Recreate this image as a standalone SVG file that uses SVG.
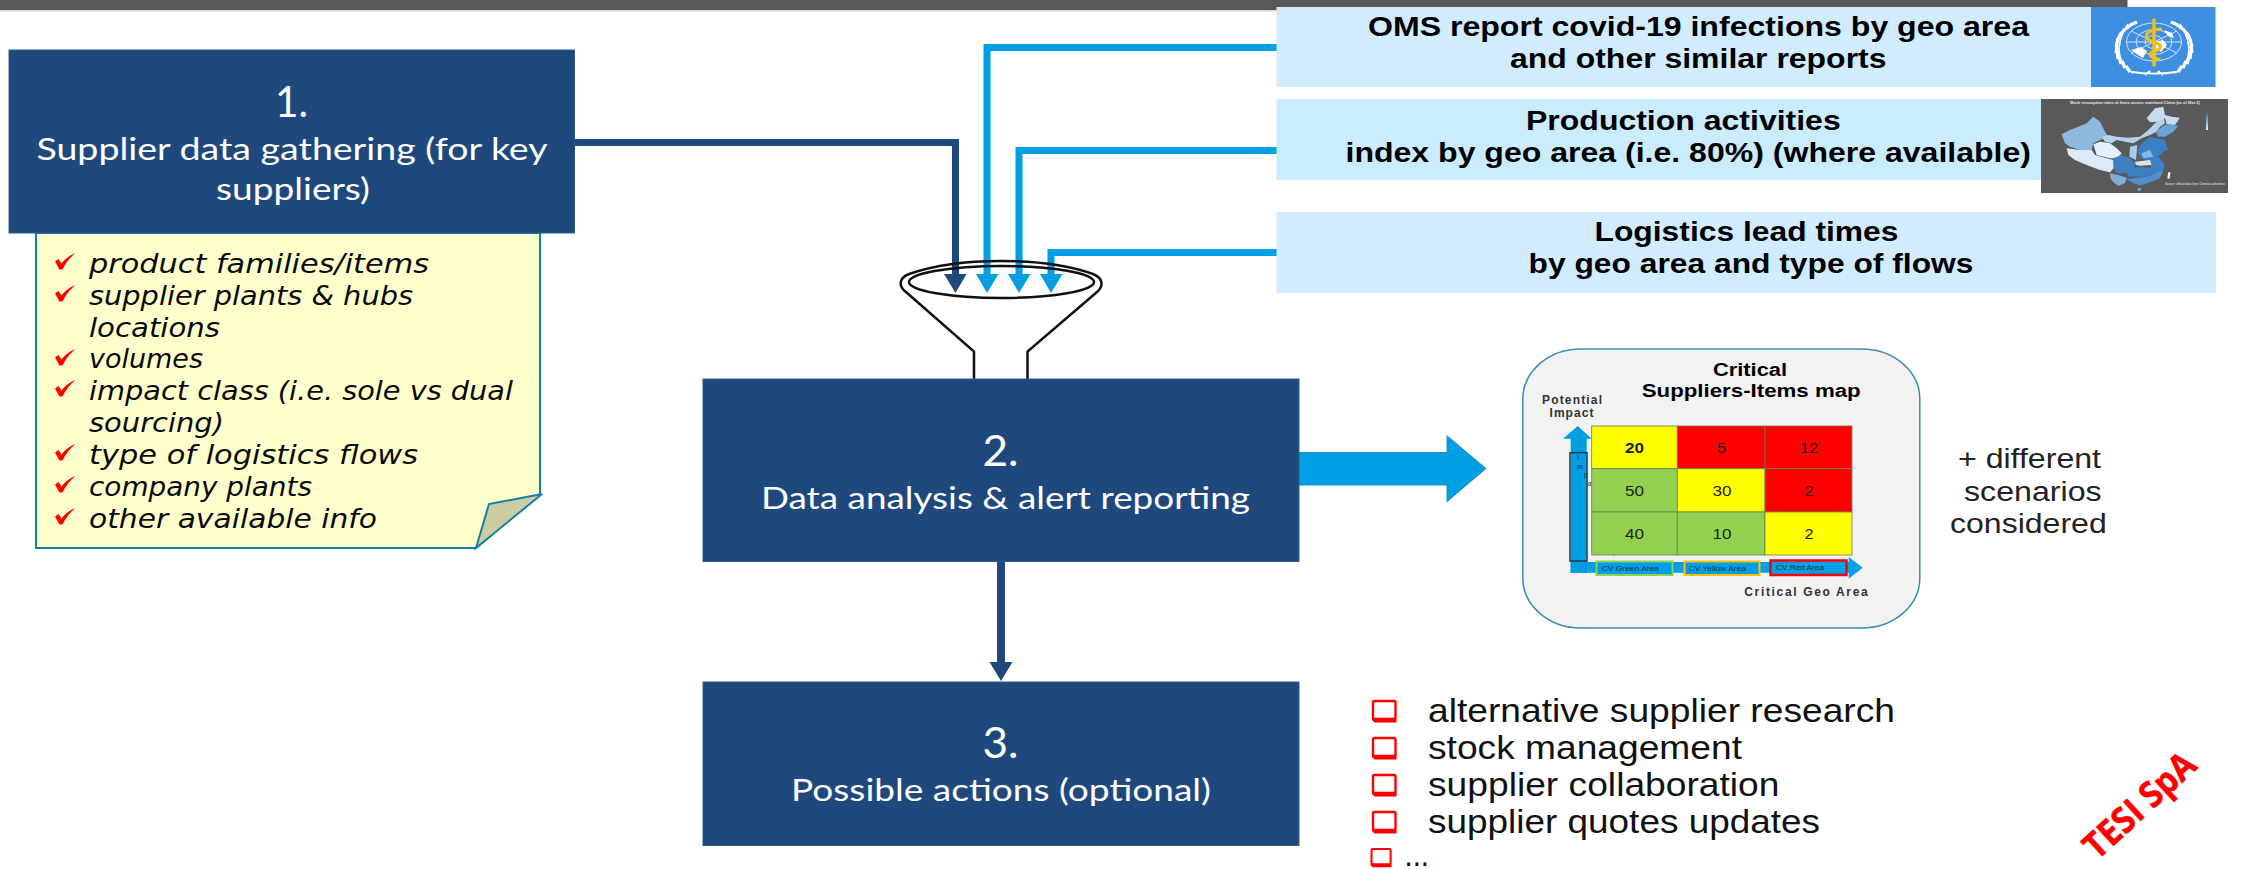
<svg xmlns="http://www.w3.org/2000/svg" width="2244" height="869" viewBox="0 0 2244 869">
<style>
.box{fill:#1F497D;stroke:#2e5a90;stroke-width:1}
.num{font-family:Lato,"Liberation Sans",sans-serif;fill:#fff;font-size:42px}
.ttl{font-family:Lato,"Liberation Sans",sans-serif;fill:#fff;font-size:30px}
.note{font-family:"DejaVu Sans",sans-serif;font-style:italic;font-size:27px;fill:#0a0a0a}
.src{font-family:"Liberation Sans",Arial,sans-serif;font-weight:700;font-size:27px;fill:#000}
.info{fill:#D2ECFF}
.bl{fill:none;stroke:#009FE3;stroke-width:7}
.dk{fill:none;stroke:#1F497D;stroke-width:7}
.act{font-family:"Liberation Sans",Arial,sans-serif;font-size:33px;fill:#111}
.sc{font-family:"Liberation Sans",Arial,sans-serif;font-size:27px;fill:#222}
.cn{font-family:"Liberation Sans",Arial,sans-serif;font-size:15px;fill:#222}
.axl{font-family:"Liberation Sans",Arial,sans-serif;font-weight:700;font-size:12px;fill:#333}
.cv{font-family:"Liberation Sans",Arial,sans-serif;font-size:7px;fill:#12314a}
.c{stroke:#6f7f50;stroke-width:.8}
.w{fill:none;stroke:#fff}
.mt{font-family:"Liberation Sans",Arial,sans-serif;fill:#e8e8e8}
</style>
<defs>
<path id="chk" d="M0,8.500 L3.500,6 L6.500,10.500 C10,6 14,2.500 20.500,0 C14.500,5 10.500,10 7.500,16.500 L4.500,16.500 Z" fill="#F00"/>
<g id="sq"><path d="M-1,17 H23.500 V21.500 H1.500 L-1,19 Z" fill="#F00"/><rect x="0" y="0" width="22.500" height="18" rx="1.500" fill="#fff" stroke="#F00" stroke-width="2.400"/></g>
<filter id="bl" x="-5%" y="-5%" width="110%" height="110%"><feGaussianBlur stdDeviation="2.200"/></filter>
<linearGradient id="lg" x1="0" y1="0" x2="0" y2="1"><stop offset="0" stop-color="#2f75bd"/><stop offset="1" stop-color="#e6f0fa"/></linearGradient>
<g id="wr" class="w">
<path d="M2133,73 C2120,66 2112,48 2128,24" stroke-width="1.500"/>
<path d="M2130,25 L2137,22 M2124,30 L2131,25 M2120,35 L2125,29 M2117,41 L2121,33 M2116,47 L2118,39 M2116,53 L2117,45 M2118,59 L2117,50 M2121,64 L2119,56 M2125,68 L2122,61 M2130,72 L2126,66" stroke-width="3.200"/>
</g>
</defs>
<rect width="2244" height="869" fill="#fff"/>
<rect x="0" y="0" width="2127.500" height="10" fill="#595959"/>
<rect x="0" y="10" width="2127.500" height="1.500" fill="#d6d6d6"/>

<g id="connectors">
<path class="dk" d="M574,142.500 H955.500 V276"/>
<path d="M944,274 H966.500 L955.500,293 Z" fill="#1F497D"/>
<path class="bl" d="M1277,47.500 H987 V276"/>
<path d="M976,274 H998.500 L987,293 Z" fill="#009FE3"/>
<path class="bl" d="M1277,150.500 H1019 V276"/>
<path d="M1008,274 H1030.500 L1019,293 Z" fill="#009FE3"/>
<path class="bl" d="M1277,252.500 H1051 V276"/>
<path d="M1040,274 H1062.500 L1051,293 Z" fill="#009FE3"/>
<path d="M1001,561 V664" fill="none" stroke="#1F497D" stroke-width="8"/>
<path d="M989.500,662 H1012.500 L1001,681 Z" fill="#1F497D"/>
<path id="to-map" d="M1299,452.500 H1447 V435.700 L1486,468.500 L1447,501.700 V485 H1299 Z" fill="#009FE3" stroke="#2b8db8" stroke-width="1"/>
</g>

<g id="funnel" fill="none" stroke="#111" stroke-width="2.500">
<ellipse cx="1001.500" cy="282" rx="92.500" ry="16"/>
<path d="M974,380 V351.500 L906,292 C898,286 899,278 909,274 C935,265 965,261 1001,261 C1040,261 1068,265 1093,274 C1103,278 1104,286 1097,292 L1027.500,351.500 V380"/>
</g>

<g id="node-1">
<path d="M36,233 H540 V494 L476,548 H36 Z" fill="#FFFFCC" stroke="#127FA8" stroke-width="2"/>
<path d="M476,548 L489,504 L542,494 Z" fill="#CDCDA3" stroke="#127FA8" stroke-width="2"/>
<use href="#chk" x="55" y="253"/><use href="#chk" x="55" y="285"/><use href="#chk" x="55" y="349"/><use href="#chk" x="55" y="380"/><use href="#chk" x="55" y="444"/><use href="#chk" x="55" y="476"/><use href="#chk" x="55" y="508"/>
<text class="note" x="89" y="273" textLength="340" lengthAdjust="spacingAndGlyphs">product families/items</text>
<text class="note" x="89" y="305" textLength="324" lengthAdjust="spacingAndGlyphs">supplier plants &amp; hubs</text>
<text class="note" x="89" y="337" textLength="131" lengthAdjust="spacingAndGlyphs">locations</text>
<text class="note" x="89" y="368" textLength="114" lengthAdjust="spacingAndGlyphs">volumes</text>
<text class="note" x="89" y="400" textLength="424" lengthAdjust="spacingAndGlyphs">impact class (i.e. sole vs dual</text>
<text class="note" x="89" y="432" textLength="135" lengthAdjust="spacingAndGlyphs">sourcing)</text>
<text class="note" x="89" y="464" textLength="329" lengthAdjust="spacingAndGlyphs">type of logistics flows</text>
<text class="note" x="89" y="496" textLength="223" lengthAdjust="spacingAndGlyphs">company plants</text>
<text class="note" x="89" y="528" textLength="288" lengthAdjust="spacingAndGlyphs">other available info</text>
<rect class="box" x="9" y="50" width="565.500" height="183"/>
<text class="num" x="275" y="117" textLength="33" lengthAdjust="spacingAndGlyphs">1.</text>
<text class="ttl" x="36.500" y="160" textLength="511" lengthAdjust="spacingAndGlyphs">Supplier data gathering (for key</text>
<text class="ttl" x="216" y="200" textLength="154" lengthAdjust="spacingAndGlyphs">suppliers)</text>
</g>

<g id="node-2">
<rect class="box" x="703" y="379" width="596" height="182.500"/>
<text class="num" x="982.500" y="465.700" textLength="36" lengthAdjust="spacingAndGlyphs">2.</text>
<text class="ttl" x="761" y="508.500" textLength="489" lengthAdjust="spacingAndGlyphs">Data analysis &amp; alert reporting</text>
</g>

<g id="node-3">
<rect class="box" x="703" y="682" width="596" height="163.500"/>
<text class="num" x="982.500" y="758" textLength="36" lengthAdjust="spacingAndGlyphs">3.</text>
<text class="ttl" x="791" y="800.700" textLength="420" lengthAdjust="spacingAndGlyphs">Possible actions (optional)</text>
</g>

<g id="source-oms">
<rect class="info" x="1276.500" y="7" width="815" height="80"/>
<text class="src" x="1368" y="36" textLength="661" lengthAdjust="spacingAndGlyphs">OMS report covid-19 infections by geo area</text>
<text class="src" x="1510" y="68" textLength="376.500" lengthAdjust="spacingAndGlyphs">and other similar reports</text>
<rect x="2091" y="7" width="124.500" height="80" fill="#3F8FE0"/>
<g id="who-emblem">
<g class="w" stroke-width="1" opacity=".75">
<ellipse cx="2154" cy="42" rx="27.500" ry="19"/><ellipse cx="2154" cy="42" rx="18" ry="12.500"/><ellipse cx="2154" cy="42" rx="9" ry="6.500"/>
<path d="M2126.500,42 H2181.500 M2154,23 V61 M2131,31 L2177,53 M2177,31 L2131,53"/>
</g>
<path d="M2131,50 L2141,47 L2147,51 L2143,58 L2138,55 Z M2155,42 L2163,40 L2167,45 L2161,52 L2156,49 Z M2164,30 L2172,33 L2174,38 L2168,36 Z" fill="#fff"/>
<use href="#wr"/>
<use href="#wr" transform="translate(4308,0) scale(-1,1)"/>
<path d="M2132,72 C2145,74 2163,74 2176,72 M2145,75 L2150,71 M2163,75 L2158,71" class="w" stroke-width="1.800"/>
<path d="M2154,20 V65" stroke="#F0BE1E" stroke-width="3.500" fill="none" stroke-linecap="round"/>
<path d="M2162,29 C2152,29 2144,33 2147,38 C2150,44 2163,42 2160,48 C2158,52 2149,51 2150,55 C2151,58 2157,58 2160,60" stroke="#F0BE1E" stroke-width="3.200" fill="none"/>
</g>
</g>

<g id="source-production">
<rect class="info" x="1276.500" y="99" width="765" height="81" style="fill:#CBEBFF"/>
<text class="src" x="1526" y="130" textLength="314.700" lengthAdjust="spacingAndGlyphs">Production activities</text>
<text class="src" x="1345.500" y="162" textLength="685.500" lengthAdjust="spacingAndGlyphs">index by geo area (i.e. 80%) (where available)</text>
<rect x="2041" y="99" width="187" height="94" fill="#595959"/>
<g id="china-map" transform="translate(2050,95) scale(.3333)">
<g filter="url(#bl)">
<polygon fill="#8FB8DE" points="35,118 60,105 85,95 110,85 130,65 150,80 165,110 175,125 150,135 130,145 125,165 90,165 60,155 45,145"/>
<polygon fill="#DCEAF7" points="50,160 90,165 125,165 135,180 170,190 190,195 195,215 180,232 150,225 110,210 75,195 55,180"/>
<polygon fill="#E6F0FA" points="130,148 150,140 180,145 200,160 215,175 200,190 180,190 140,180"/>
<polygon fill="#B5D0EA" points="155,125 175,120 200,125 235,128 270,125 295,105 315,85 340,65 345,85 330,95 320,110 300,120 275,130 250,145 225,140 200,135 185,145 165,140"/>
<polygon fill="#C6DBEF" points="290,70 315,40 340,35 345,60 365,65 390,68 375,90 350,88 345,70 320,80 300,82"/>
<polygon fill="#6BA3D6" points="335,95 350,88 385,92 370,110 345,125 325,125 318,112"/>
<polygon fill="#3A7FC4" points="270,150 300,125 320,130 345,135 355,165 340,170 325,185 345,210 340,225 310,240 300,205 270,185 262,170"/>
<polygon fill="#A9C9E6" points="240,155 262,150 258,195 238,185"/>
<polygon fill="#8FB8DE" points="275,175 300,165 310,185 280,190"/>
<polygon fill="#3F7FBF" points="190,190 215,180 240,190 258,208 250,225 225,235 200,235 190,220"/>
<polygon fill="#7FAEDB" points="180,235 205,240 230,248 225,265 205,272 190,262 182,250"/>
<polygon fill="#3A7FC4" points="230,232 265,215 305,218 310,235 285,245 235,245"/>
<polygon fill="#4D90CE" points="228,252 290,245 340,225 330,250 300,262 270,272 245,262"/>
<polygon fill="#E2E2E2" points="255,200 300,195 305,210 270,212 258,210"/>
<polygon fill="#6BA3D6" points="262,280 275,278 272,288 264,288"/>
<polygon fill="#fff" points="355,232 362,232 358,252 352,250"/>
</g>
<rect x="468" y="55" width="6" height="50" fill="url(#lg)"/>
<text class="mt" x="60" y="27" font-size="10" font-weight="700" textLength="390" lengthAdjust="spacingAndGlyphs">Work resumption rates at firms across mainland China (as of Mar 2)</text>
<text class="mt" x="345" y="270" font-size="8" textLength="180" lengthAdjust="spacingAndGlyphs">Source: official data from Chinese authorities</text>
</g>
</g>

<g id="source-logistics">
<rect class="info" x="1276.500" y="212" width="939.500" height="81"/>
<text class="src" x="1594.500" y="241" textLength="304" lengthAdjust="spacingAndGlyphs">Logistics lead times</text>
<text class="src" x="1528.500" y="273" textLength="445" lengthAdjust="spacingAndGlyphs">by geo area and type of flows</text>
</g>

<g id="map-card">
<rect x="1522.800" y="349" width="397" height="279" rx="58" ry="50" fill="#F2F2F2" stroke="#3d8db5" stroke-width="1.500"/>
<text class="src" x="1713" y="375.700" style="font-size:17.500px" textLength="74" lengthAdjust="spacingAndGlyphs">Critical</text>
<text class="src" x="1641.700" y="396.700" style="font-size:17.500px" textLength="219" lengthAdjust="spacingAndGlyphs">Suppliers-Items map</text>
<text class="axl" x="1542" y="403.700" textLength="60" lengthAdjust="spacing">Potential</text>
<text class="axl" x="1549.500" y="417" textLength="44" lengthAdjust="spacing">Impact</text>
<path d="M1570.700,573 V438.700 H1563 L1577.700,426 L1591.700,438.700 H1586.700 V573 Z" fill="#009FE3"/>
<path d="M1570.700,562 H1848.700 V557 L1862.700,567.700 L1848.700,578.700 V572.700 H1570.700 Z" fill="#009FE3"/>
<path d="M1585.700,562 V573" stroke="#1a6f96" stroke-width=".8"/>
<rect x="1570" y="452.700" width="17" height="108.300" fill="none" stroke="#1d3b4f" stroke-width="1.500"/>
<text font-family="Liberation Sans, Arial, sans-serif" font-size="7" fill="#12314a" text-anchor="middle" x="1578" y="460 469 477 486 494 503 512 524 532 540 548 556">Impact level</text>
<g class="c">
<rect x="1591.700" y="426" width="85.600" height="42.700" fill="#FFFF00"/>
<rect x="1677.300" y="426" width="87.700" height="42.700" fill="#FF0000"/>
<rect x="1765" y="426" width="87" height="42.700" fill="#FF0000"/>
<rect x="1591.700" y="468.700" width="85.600" height="43.300" fill="#92D050"/>
<rect x="1677.300" y="468.700" width="87.700" height="43.300" fill="#FFFF00"/>
<rect x="1765" y="468.700" width="87" height="43.300" fill="#FF0000"/>
<rect x="1591.700" y="512" width="85.600" height="43" fill="#92D050"/>
<rect x="1677.300" y="512" width="87.700" height="43" fill="#92D050"/>
<rect x="1765" y="512" width="87" height="43" fill="#FFFF00"/>
</g>
<text class="cn" x="1625" y="453" font-weight="700" textLength="19" lengthAdjust="spacingAndGlyphs">20</text><text class="cn" x="1717" y="453" textLength="9" lengthAdjust="spacingAndGlyphs">5</text><text class="cn" x="1800" y="453" textLength="18" lengthAdjust="spacingAndGlyphs">12</text>
<text class="cn" x="1625" y="496.300" textLength="19" lengthAdjust="spacingAndGlyphs">50</text><text class="cn" x="1712.500" y="496.300" textLength="19" lengthAdjust="spacingAndGlyphs">30</text><text class="cn" x="1804.500" y="496.300" textLength="9" lengthAdjust="spacingAndGlyphs">2</text>
<text class="cn" x="1625" y="539" textLength="19" lengthAdjust="spacingAndGlyphs">40</text><text class="cn" x="1712.500" y="539" textLength="19" lengthAdjust="spacingAndGlyphs">10</text><text class="cn" x="1804.500" y="539" textLength="9" lengthAdjust="spacingAndGlyphs">2</text>
<rect x="1596.500" y="561.500" width="76" height="13.500" fill="#009FE3" stroke="#92D050" stroke-width="2"/>
<rect x="1684.500" y="561.500" width="75" height="13.500" fill="#009FE3" stroke="#FFC000" stroke-width="2"/>
<rect x="1770.500" y="560.500" width="76" height="14.500" fill="#009FE3" stroke="#FF0000" stroke-width="2.500"/>
<text class="cv" x="1601.700" y="570.500" textLength="57.300" lengthAdjust="spacingAndGlyphs">CV Green Area</text>
<text class="cv" x="1688.700" y="570.500" textLength="57.300" lengthAdjust="spacingAndGlyphs">CV Yellow Area</text>
<text class="cv" x="1776" y="569.500" textLength="48" lengthAdjust="spacingAndGlyphs">CV Red Area</text>
<text class="axl" x="1744.300" y="596" textLength="123.400" lengthAdjust="spacing">Critical Geo Area</text>
</g>

<g id="scenarios-note">
<text class="sc" x="1958" y="468" textLength="143" lengthAdjust="spacingAndGlyphs">+ different</text>
<text class="sc" x="1964" y="500.700" textLength="137.700" lengthAdjust="spacingAndGlyphs">scenarios</text>
<text class="sc" x="1950" y="532.700" textLength="156.700" lengthAdjust="spacingAndGlyphs">considered</text>
</g>

<g id="actions-list">
<use href="#sq" x="1373" y="701"/><use href="#sq" x="1373" y="738"/><use href="#sq" x="1373" y="775"/><use href="#sq" x="1373" y="812"/>
<use href="#sq" transform="translate(1371.500,849) scale(.85)"/>
<text class="act" x="1428" y="721.700" textLength="467" lengthAdjust="spacingAndGlyphs">alternative supplier research</text>
<text class="act" x="1428" y="758.700" textLength="314" lengthAdjust="spacingAndGlyphs">stock management</text>
<text class="act" x="1428" y="796" textLength="351.500" lengthAdjust="spacingAndGlyphs">supplier collaboration</text>
<text class="act" x="1428" y="833" textLength="392" lengthAdjust="spacingAndGlyphs">supplier quotes updates</text>
<text class="act" x="1404.600" y="866" textLength="24.400" lengthAdjust="spacingAndGlyphs">...</text>
</g>

<text id="watermark" transform="translate(2097,861) rotate(-42.500)" font-family="'Open Sans',Lato,sans-serif" font-weight="700" font-size="36" fill="#F00" stroke="#F00" stroke-width=".5" textLength="138" lengthAdjust="spacingAndGlyphs">TESI SpA</text>
</svg>
